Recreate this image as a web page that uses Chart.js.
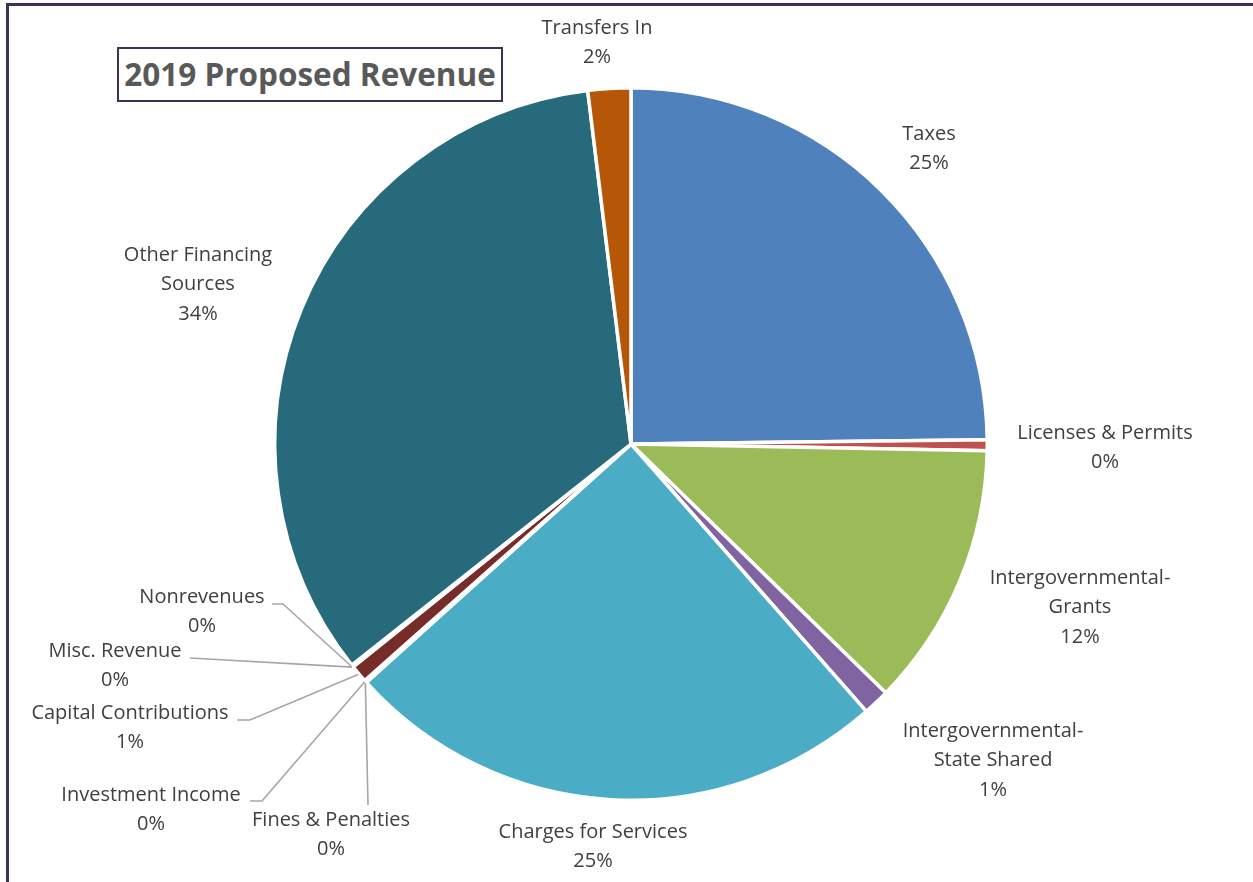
<!DOCTYPE html>
<html>
<head>
<meta charset="utf-8">
<script src="https://cdn.jsdelivr.net/npm/chart.js@4.4.1/dist/chart.umd.min.js"></script>
<style>
  html, body { margin: 0; padding: 0; background: #fff; overflow: hidden; }
  #wrap { position: relative; width: 1253px; height: 882px; }
  #frame {
    position: absolute; left: 6px; top: 3px; width: 1300px; height: 940px;
    border: 3px solid #3f3151; box-sizing: border-box;
  }
  #title {
    position: absolute; left: 117px; top: 47px; width: 386px; height: 55px;
    border: 2px solid #3f3151; box-sizing: border-box; background: #fff;
    font: bold 31.5px "Open Sans", sans-serif; color: #595959;
    text-align: center; line-height: 50px; z-index: 2;
  }
  canvas { position: absolute; left: 0; top: 0; }
</style>
</head>
<body>
<div id="wrap">
  <div id="frame"></div>
  <canvas id="myChart" width="1253" height="882"></canvas>
  <div id="title">2019 Proposed Revenue</div>
</div>
<script>
// revenue sources, clockwise from 12 o'clock
const categories = [
  'Taxes', 'Licenses & Permits', 'Intergovernmental-Grants', 'Intergovernmental-State Shared',
  'Charges for Services', 'Fines & Penalties', 'Investment Income', 'Capital Contributions',
  'Misc. Revenue', 'Nonrevenues', 'Other Financing Sources', 'Transfers In'
];
// share of total revenue (%)
const shares = [24.8, 0.49, 12.0, 1.2, 24.8, 0.03, 0.08, 0.8, 0.05, 0.05, 33.7, 1.94];

const colors = [
  '#4f81bd', '#c0504d', '#9bbb59', '#8064a2', '#4bacc6', '#f79646',
  '#2c4d75', '#772c2a', '#5f7530', '#4d3b62', '#276a7c', '#b65708'
];

// how each label is written and where it sits (centre x, first line y)
const labelLines = [
  ['Taxes'], ['Licenses & Permits'], ['Intergovernmental-', 'Grants'],
  ['Intergovernmental-', 'State Shared'], ['Charges for Services'], ['Fines & Penalties'],
  ['Investment Income'], ['Capital Contributions'], ['Misc. Revenue'], ['Nonrevenues'],
  ['Other Financing', 'Sources'], ['Transfers In']
];
const labelPos = [
  [929, 134], [1105, 433], [1080, 578], [993, 731], [593, 832], [331, 820],
  [151, 795], [130, 713], [115, 651], [202, 597], [198, 255], [597, 28]
];
// leader line points (from the label side), the pie edge is added at draw time
const leaders = {
  5: [[368, 805]],
  6: [[250, 801], [262, 801]],
  7: [[237, 720], [250, 720]],
  8: [[190, 658]],
  9: [[272, 604], [283, 604]]
};

const total = shares.reduce((a, b) => a + b, 0);

const labelPlugin = {
  id: 'pieLabels',
  afterDraw(chart) {
    const ctx = chart.ctx;
    const arcs = chart.getDatasetMeta(0).data;
    ctx.save();
    arcs.forEach((arc, i) => {
      const p = arc.getProps(['x', 'y', 'startAngle', 'endAngle', 'outerRadius'], true);
      if (leaders[i]) {
        const mid = (p.startAngle + p.endAngle) / 2;
        const ex = p.x + Math.cos(mid) * (p.outerRadius + 1);
        const ey = p.y + Math.sin(mid) * (p.outerRadius + 1);
        ctx.strokeStyle = '#a6a6a6';
        ctx.lineWidth = 1.6;
        ctx.beginPath();
        leaders[i].forEach((pt, k) => k ? ctx.lineTo(pt[0], pt[1]) : ctx.moveTo(pt[0], pt[1]));
        ctx.lineTo(ex, ey);
        ctx.stroke();
      }
      const pct = Math.round(shares[i] / total * 100) + '%';
      const lines = labelLines[i].concat([pct]);
      ctx.fillStyle = '#404040';
      ctx.font = '20px "Open Sans", sans-serif';
      ctx.textAlign = 'center';
      ctx.textBaseline = 'middle';
      lines.forEach((t, k) => ctx.fillText(t, labelPos[i][0], labelPos[i][1] + k * 29.5));
    });
    ctx.restore();
  }
};

new Chart(document.getElementById('myChart'), {
  type: 'pie',
  data: {
    labels: categories,
    datasets: [{
      data: shares,
      backgroundColor: colors,
      borderColor: '#ffffff',
      borderWidth: 3.5
    }]
  },
  options: {
    responsive: false,
    animation: false,
    events: [],
    layout: { padding: { left: 273, right: 264, top: 86, bottom: 80 } },
    plugins: { legend: { display: false }, tooltip: { enabled: false } }
  },
  plugins: [labelPlugin]
});
</script>
</body>
</html>
